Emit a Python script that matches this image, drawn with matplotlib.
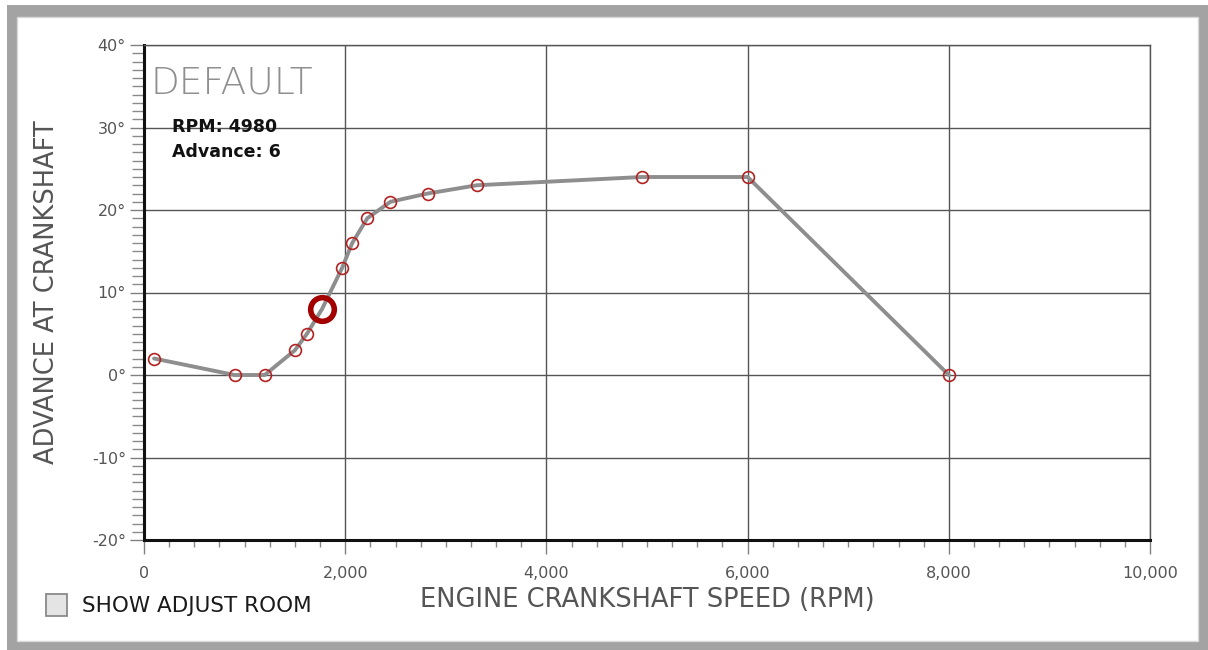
import matplotlib
matplotlib.use("Agg")
import matplotlib.pyplot as plt
from matplotlib.patches import Rectangle
from matplotlib.ticker import MultipleLocator, FuncFormatter

# ---- data -------------------------------------------------------------
rpm = [100, 900, 1200, 1500, 1620, 1770, 1970, 2070, 2220, 2450, 2820, 3310, 4950, 6000, 8000]
advance = [2, 0, 0, 3, 5, 8, 13, 16, 19, 21, 22, 23, 24, 24, 0]
selected_index = 5
info_rpm = 4980
info_advance = 6
title_text = "DEFAULT"
x_label = "ENGINE CRANKSHAFT SPEED (RPM)"
y_label = "ADVANCE AT CRANKSHAFT"
checkbox_label = "SHOW ADJUST ROOM"

W, H = 1208, 650
fig = plt.figure(figsize=(W / 100, H / 100), dpi=100)
fig.patch.set_facecolor("white")

# frame
fig.patches.append(Rectangle((7 / W, 0), (W - 7) / W, 645 / H, transform=fig.transFigure,
                             facecolor="#a3a3a3", edgecolor="none", zorder=-10))
fig.patches.append(Rectangle((17 / W, 9 / H), (1198 - 17) / W, (641 - 17) / H,
                             transform=fig.transFigure, facecolor="white",
                             edgecolor="#d8d8d8", lw=1, zorder=-9))

ax = fig.add_axes([144 / W, 110 / H, 1006 / W, 495 / H])
ax.set_facecolor("none")
ax.set_xlim(0, 10000)
ax.set_ylim(-20, 40)

ax.xaxis.set_major_locator(MultipleLocator(2000))
ax.xaxis.set_minor_locator(MultipleLocator(250))
ax.yaxis.set_major_locator(MultipleLocator(10))
ax.yaxis.set_minor_locator(MultipleLocator(1))
ax.xaxis.set_major_formatter(FuncFormatter(lambda v, p: f"{int(v):,}"))
ax.yaxis.set_major_formatter(FuncFormatter(lambda v, p: f"{int(v)}°"))

ax.grid(True, which="major", color="#555555", lw=1.0, zorder=0)
ax.set_axisbelow(True)

for s in ["left", "bottom"]:
    ax.spines[s].set_color("#111111")
    ax.spines[s].set_linewidth(2.2)
for s in ["top", "right"]:
    ax.spines[s].set_color("#555555")
    ax.spines[s].set_linewidth(1.0)

ax.tick_params(axis="y", which="major", length=10, width=1, color="#808080", pad=3,
               labelsize=11.5, labelcolor="#555555")
ax.tick_params(axis="y", which="minor", length=9, width=1, color="#8a8a8a")
ax.tick_params(axis="x", which="major", length=10, width=1, color="#808080", pad=9,
               labelsize=11.5, labelcolor="#555555")
ax.tick_params(axis="x", which="minor", length=5, width=1, color="#8a8a8a")

# curve
ax.plot(rpm, advance, color="#8e8e8e", lw=2.8, zorder=3, solid_capstyle="round")
small_x = [x for i, x in enumerate(rpm) if i != selected_index]
small_y = [y for i, y in enumerate(advance) if i != selected_index]
ax.plot(small_x, small_y, ls="none", marker="o", ms=8.5, mfc="none", mec="#b22222",
        mew=1.2, zorder=4)
ax.plot([rpm[selected_index]], [advance[selected_index]], ls="none", marker="o", ms=17,
        mfc="none", mec="#a30000", mew=4, zorder=5)

# texts
ax.text(0.006, 0.903, title_text, transform=ax.transAxes, fontsize=27, color="#8f8f8f",
        va="baseline", ha="left", fontweight="light")
ax.text(0.028, 0.852, f"RPM: {info_rpm}\nAdvance: {info_advance}", transform=ax.transAxes,
        fontsize=12.5, fontweight="bold", color="#111111", va="top", ha="left",
        linespacing=1.45)

ax.set_xlabel(x_label, fontsize=18.5, color="#555555")
ax.xaxis.label.set_va("center")
ax.xaxis.set_label_coords(0.5, -0.121)
ax.set_ylabel(y_label, fontsize=18.5, color="#555555")
ax.yaxis.label.set_va("center")
ax.yaxis.set_label_coords(-0.0964, 0.5)

# checkbox
fig.patches.append(Rectangle((46 / W, (650 - 616) / H), 21 / W, 22 / H, transform=fig.transFigure,
                             facecolor="#e4e4e4", edgecolor="#8a8a8a", lw=1.3))
fig.text(82 / W, (650 - 606) / H, checkbox_label, fontsize=15.5, color="#1a1a1a",
         va="center", ha="left")

fig.savefig("out.png", dpi=100)
